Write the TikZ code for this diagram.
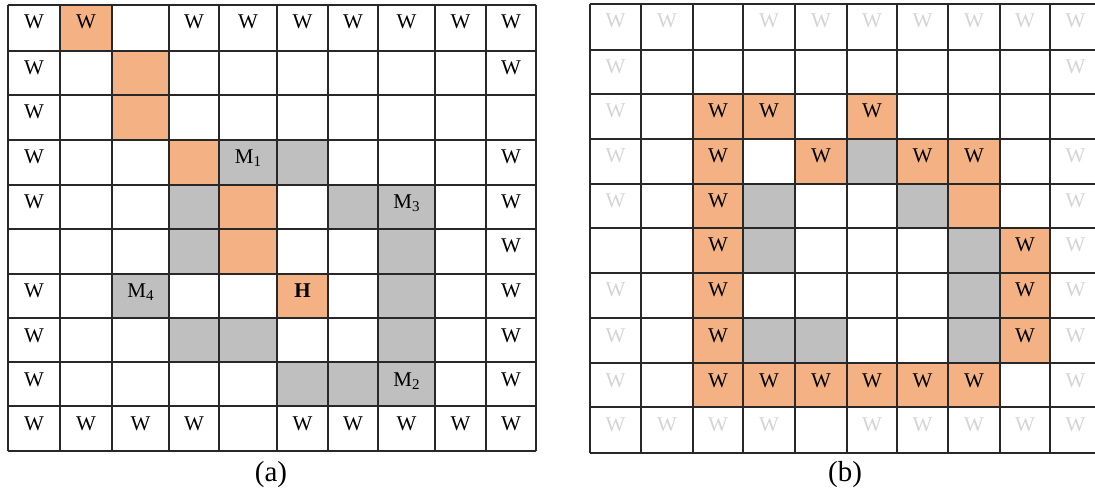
\documentclass[tikz,border=0pt]{standalone}
\usepackage{fontspec}
\setmainfont{Liberation Serif}
\definecolor{pathor}{HTML}{F4B183}
\definecolor{blockg}{HTML}{BFBFBF}
\definecolor{fadew}{RGB}{212,212,212}
\definecolor{gridc}{RGB}{40,40,40}
\def\XA{{8,60,112,169,219,277,328,378,435,486,536}}
\def\YA{{5,51,95,140,185,229,274,318,362,406,451}}
\def\XB{{590,641,693,743,795,847,897,948,1000,1050,1101}}
\def\YB{{4,50,94,139,184,228,273,318,363,407,453}}
\newcommand\cellgeo[4]{%
  \pgfmathtruncatemacro\gcn{#3+1}%
  \pgfmathtruncatemacro\grn{#4+1}%
  \pgfmathsetmacro\gxa{#1[#3]}%
  \pgfmathsetmacro\gxb{#1[\gcn]}%
  \pgfmathsetmacro\gya{#2[#4]}%
  \pgfmathsetmacro\gyb{#2[\grn]}%
  \pgfmathsetmacro\gxm{(\gxa+\gxb)/2}%
  \pgfmathsetmacro\gyt{\gya+24}}
\newcommand\msub[1]{\raisebox{-3pt}{\fontsize{15}{15}\selectfont #1}}
\tikzset{
  celltext/.style={anchor=base, inner sep=0pt, font=\fontsize{21}{21}\selectfont},
  fadedtext/.style={celltext, text=fadew},
  gridline/.style={draw=gridc, line width=1.2pt},
  caption/.style={anchor=base, inner sep=0pt, font=\fontsize{29}{29}\selectfont}
}
\begin{document}
\begin{tikzpicture}[x=1pt,y=-1pt]
\useasboundingbox (0,0) rectangle (1095,494);
% ---------- grid (a) ----------
\foreach \c/\r in {1/0,2/1,2/2,3/3,4/4,4/5,5/6}{
  \cellgeo{\XA}{\YA}{\c}{\r}
  \fill[pathor] (\gxa,\gya) rectangle (\gxb,\gyb);}
\foreach \c/\r in {4/3,5/3,3/4,6/4,7/4,3/5,7/5,2/6,7/6,3/7,4/7,7/7,5/8,6/8,7/8}{
  \cellgeo{\XA}{\YA}{\c}{\r}
  \fill[blockg] (\gxa,\gya) rectangle (\gxb,\gyb);}
\foreach \i in {0,...,10}{
  \pgfmathsetmacro\gx{\XA[\i]}
  \pgfmathsetmacro\gy{\YA[\i]}
  \draw[gridline] (\gx,5) -- (\gx,451);
  \draw[gridline] (8,\gy) -- (536,\gy);}
\foreach \c/\r in {0/0,1/0,3/0,4/0,5/0,6/0,7/0,8/0,9/0,
                   0/1,9/1,0/2,0/3,9/3,0/4,9/4,9/5,0/6,9/6,0/7,9/7,0/8,9/8,
                   0/9,1/9,2/9,3/9,5/9,6/9,7/9,8/9,9/9}{
  \cellgeo{\XA}{\YA}{\c}{\r}
  \node[celltext] (a-\c-\r) at (\gxm,\gyt) {W};}
\foreach \c/\r/\t in {4/3/{M\msub{1}},7/4/{M\msub{3}},2/6/{M\msub{4}},7/8/{M\msub{2}},5/6/{\textbf{H}}}{
  \cellgeo{\XA}{\YA}{\c}{\r}
  \node[celltext] (a-\c-\r) at (\gxm,\gyt) {\t};}
\node[caption] (capa) at (271,481) {(a)};
% ---------- grid (b) ----------
\foreach \c/\r in {2/2,3/2,5/2,2/3,4/3,6/3,7/3,2/4,7/4,2/5,8/5,2/6,8/6,2/7,8/7,
                   2/8,3/8,4/8,5/8,6/8,7/8}{
  \cellgeo{\XB}{\YB}{\c}{\r}
  \fill[pathor] (\gxa,\gya) rectangle (\gxb,\gyb);}
\foreach \c/\r in {5/3,3/4,6/4,3/5,7/5,7/6,3/7,4/7,7/7}{
  \cellgeo{\XB}{\YB}{\c}{\r}
  \fill[blockg] (\gxa,\gya) rectangle (\gxb,\gyb);}
\foreach \i in {0,...,10}{
  \pgfmathsetmacro\gx{\XB[\i]}
  \pgfmathsetmacro\gy{\YB[\i]}
  \draw[gridline] (\gx,4) -- (\gx,453);
  \draw[gridline] (590,\gy) -- (1101,\gy);}
\foreach \c/\r in {0/0,1/0,3/0,4/0,5/0,6/0,7/0,8/0,9/0,
                   0/1,9/1,0/2,0/3,9/3,0/4,9/4,9/5,0/6,9/6,0/7,9/7,0/8,9/8,
                   0/9,1/9,2/9,3/9,5/9,6/9,7/9,8/9,9/9}{
  \cellgeo{\XB}{\YB}{\c}{\r}
  \node[fadedtext] (b-\c-\r) at (\gxm,\gyt) {W};}
\foreach \c/\r in {2/2,3/2,5/2,2/3,4/3,6/3,7/3,2/4,2/5,8/5,2/6,8/6,2/7,8/7,
                   2/8,3/8,4/8,5/8,6/8,7/8}{
  \cellgeo{\XB}{\YB}{\c}{\r}
  \node[celltext] (b-\c-\r) at (\gxm,\gyt) {W};}
\node[caption] (capb) at (845,481) {(b)};
\end{tikzpicture}
\end{document}
